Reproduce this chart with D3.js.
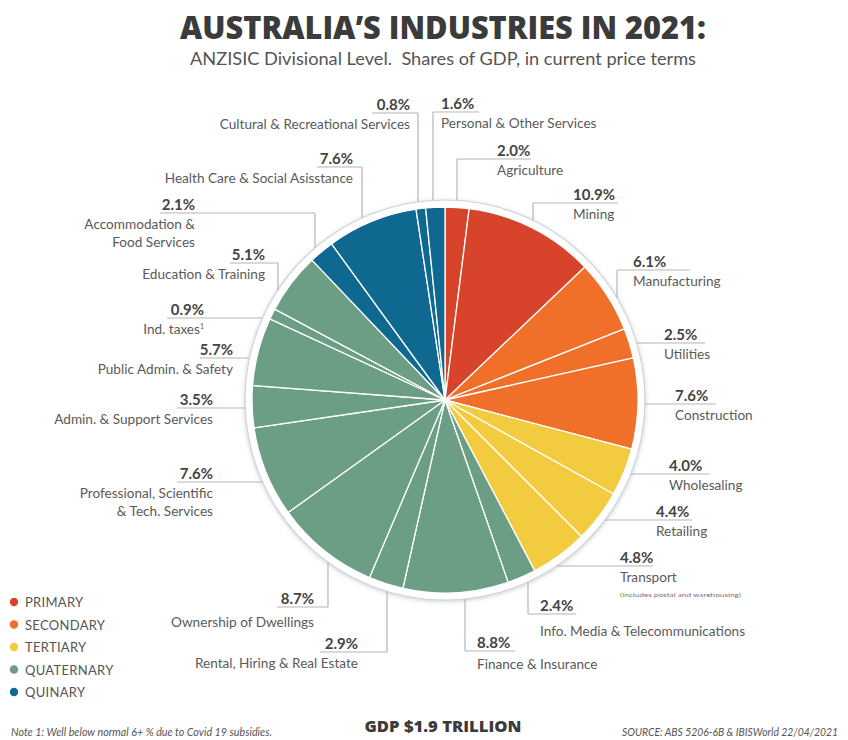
<!DOCTYPE html>
<html>
<head>
<meta charset="utf-8">
<script src="https://cdn.jsdelivr.net/npm/d3@7"></script>
<style>
  html, body { margin: 0; padding: 0; background: #fff; }
  svg { display: block; }
</style>
</head>
<body>
<svg id="chart" width="848" height="740"></svg>
<script>
// ANZSIC divisions, clockwise from 12 o'clock
const industries = [
  "Agriculture", "Mining", "Manufacturing", "Utilities", "Construction",
  "Wholesaling", "Retailing", "Transport", "Info. Media & Telecommunications",
  "Finance & Insurance", "Rental, Hiring & Real Estate", "Ownership of Dwellings",
  "Professional, Scientific & Tech. Services", "Admin. & Support Services",
  "Public Admin. & Safety", "Ind. taxes", "Education & Training",
  "Accommodation & Food Services", "Health Care & Social Asisstance",
  "Cultural & Recreational Services", "Personal & Other Services"
];
// Share of GDP (%)
const shares = [2.0, 10.9, 6.1, 2.5, 7.6, 4.0, 4.4, 4.8, 2.4, 8.8, 2.9, 8.7, 7.6, 3.5, 5.7, 0.9, 5.1, 2.1, 7.6, 0.8, 1.6];
// Sector of each division (index into sectorNames)
const sectorOf = [0, 0, 1, 1, 1, 2, 2, 2, 3, 3, 3, 3, 3, 3, 3, 3, 3, 4, 4, 4, 4];
const sectorNames = ["PRIMARY", "SECONDARY", "TERTIARY", "QUATERNARY", "QUINARY"];
const sectorColors = ["#d8442b", "#f0702a", "#f3cb3f", "#6b9e85", "#0e6890"];

// Label placement: text x, rule y, text anchor, rule ends, leader type
const labelLayout = [
  { x: 497, y: 159, anchor: "start", rule: [457, 531], leader: "v", vx: 457 },
  { x: 573, y: 203, anchor: "start", rule: [533, 618], leader: "v", vx: 533 },
  { x: 633, y: 270, anchor: "start", rule: [617, 690], leader: "v", vx: 617 },
  { x: 664, y: 343, anchor: "start", rule: [null, 705], leader: "h" },
  { x: 675, y: 404, anchor: "start", rule: [null, 716], leader: "h" },
  { x: 669, y: 474, anchor: "start", rule: [null, 710], leader: "h" },
  { x: 656, y: 520, anchor: "start", rule: [null, 692], leader: "h" },
  { x: 620, y: 566, anchor: "start", rule: [null, 653], leader: "h", note: "(includes postal and warehousing)" },
  { x: 540, y: 614, anchor: "start", rule: [528, 576], leader: "v", vx: 528, gap: 22 },
  { x: 477, y: 651, anchor: "start", rule: [465, 515], leader: "v", vx: 465, gap: 18 },
  { x: 358, y: 652, anchor: "end", rule: [320, 387], leader: "v", vx: 387 },
  { x: 314, y: 607, anchor: "end", rule: [277, 328], leader: "v", vx: 328, gap: 20 },
  { x: 213, y: 482, anchor: "end", rule: [177, null], leader: "h", lines: ["Professional, Scientific", "& Tech. Services"] },
  { x: 213, y: 408, anchor: "end", rule: [177, null], leader: "h" },
  { x: 233, y: 358, anchor: "end", rule: [200, null], leader: "h" },
  { x: 204, y: 318, anchor: "end", rule: [167, null], leader: "h", sup: "1" },
  { x: 265, y: 263, anchor: "end", rule: [230, 278], leader: "v", vx: 278 },
  { x: 195, y: 213, anchor: "end", rule: [160, 315], leader: "v", vx: 315, lines: ["Accommodation &", "Food Services"] },
  { x: 353, y: 167, anchor: "end", rule: [317, 362], leader: "v", vx: 362 },
  { x: 410, y: 113, anchor: "end", rule: [372, 418], leader: "v", vx: 418 },
  { x: 441, y: 112, anchor: "start", rule: [433, 479], leader: "v", vx: 433 }
];

const svg = d3.select("#chart");
const cx = 445, cy = 400;
const radius = 193, ringR = 200;

// Titles
svg.append("text")
  .attr("x", 443).attr("y", 39)
  .attr("text-anchor", "middle")
  .attr("textLength", 526).attr("lengthAdjust", "spacingAndGlyphs")
  .style("font-family", "'Open Sans', sans-serif")
  .style("font-weight", 800).style("font-size", "31px")
  .style("fill", "#3b3b3b")
  .text("AUSTRALIA\u2019S INDUSTRIES IN 2021:");

svg.append("text")
  .attr("x", 443).attr("y", 65)
  .attr("text-anchor", "middle")
  .attr("textLength", 506).attr("lengthAdjust", "spacingAndGlyphs")
  .style("font-family", "Lato, sans-serif")
  .style("font-size", "16.5px")
  .style("fill", "#555")
  .style("white-space", "pre")
  .text("ANZISIC Divisional Level.  Shares of GDP, in current price terms");

// Soft shadow for the outer ring
const defs = svg.append("defs");
const shadow = defs.append("filter").attr("id", "ringShadow")
  .attr("x", "-10%").attr("y", "-10%").attr("width", "120%").attr("height", "120%");
shadow.append("feDropShadow")
  .attr("dx", 0).attr("dy", 1).attr("stdDeviation", 2)
  .attr("flood-color", "#8a93a0").attr("flood-opacity", 0.45);

const g = svg.append("g").attr("transform", `translate(${cx},${cy})`);

g.append("circle")
  .attr("r", ringR)
  .attr("fill", "#fff")
  .attr("stroke", "#cfd4da")
  .attr("stroke-width", 1.2)
  .attr("filter", "url(#ringShadow)");

const pie = d3.pie().sort(null).value(d => d)(shares);
const arc = d3.arc().innerRadius(0).outerRadius(radius);

g.selectAll("path.slice")
  .data(pie)
  .join("path")
  .attr("class", "slice")
  .attr("d", arc)
  .attr("fill", (d, i) => sectorColors[sectorOf[i]])
  .attr("stroke", "#ffffff")
  .attr("stroke-width", 1.3)
  .attr("stroke-linejoin", "round");

// Leader lines and labels
const fmt = d3.format(".1f");
const lab = svg.append("g");
const lineColor = "#b5b5b5";

function circleX(y, side) {
  const dy = y - cy;
  return cx + side * Math.sqrt(ringR * ringR - dy * dy);
}
function circleY(x, side) {
  const dx = x - cx;
  return cy + side * Math.sqrt(ringR * ringR - dx * dx);
}

labelLayout.forEach((L, i) => {
  const mid = (pie[i].startAngle + pie[i].endAngle) / 2;
  const sideX = Math.sin(mid) >= 0 ? 1 : -1;
  const sideY = -Math.cos(mid) >= 0 ? 1 : -1;
  let x0 = L.rule[0], x1 = L.rule[1];
  if (L.leader === "h") {
    if (x0 === null) x0 = circleX(L.y, sideX);
    if (x1 === null) x1 = circleX(L.y, sideX);
  }
  lab.append("line")
    .attr("x1", x0).attr("x2", x1).attr("y1", L.y).attr("y2", L.y)
    .attr("stroke", lineColor).attr("stroke-width", 1.2);
  if (L.leader === "v") {
    lab.append("line")
      .attr("x1", L.vx).attr("x2", L.vx)
      .attr("y1", L.y).attr("y2", circleY(L.vx, sideY))
      .attr("stroke", lineColor).attr("stroke-width", 1.2);
  }

  lab.append("text")
    .attr("x", L.x).attr("y", L.y - 3)
    .attr("text-anchor", L.anchor)
    .style("font-family", "Lato, sans-serif")
    .style("font-weight", 700).style("font-size", "15px")
    .style("fill", "#444")
    .text(fmt(shares[i]) + "%");

  const lines = L.lines || [industries[i]];
  const gap = L.gap || 16;
  lines.forEach((t, k) => {
    const tx = lab.append("text")
      .attr("x", L.x).attr("y", L.y + gap + k * 18)
      .attr("text-anchor", L.anchor)
      .style("font-family", "Lato, sans-serif")
      .style("font-size", "13.6px")
      .style("fill", "#5a5a5a")
      .text(t);
    if (L.sup && k === lines.length - 1) {
      tx.append("tspan")
        .attr("dy", -5)
        .style("font-size", "7px")
        .text(L.sup);
    }
  });
  if (L.note) {
    lab.append("text")
      .attr("x", L.x).attr("y", L.y + gap + 15)
      .attr("text-anchor", L.anchor)
      .attr("textLength", 121).attr("lengthAdjust", "spacingAndGlyphs")
      .style("font-family", "Lato, sans-serif")
      .style("font-size", "6.5px")
      .style("fill", "#777")
      .text(L.note);
  }
});

// Legend
const legend = svg.append("g").attr("transform", "translate(14,603)");
const legendStep = 22.5;
legend.selectAll("circle")
  .data(sectorNames)
  .join("circle")
  .attr("cx", 0).attr("cy", (d, i) => i * legendStep - 1)
  .attr("r", 4.2)
  .attr("fill", (d, i) => sectorColors[i]);
legend.selectAll("text")
  .data(sectorNames)
  .join("text")
  .attr("x", 11).attr("y", (d, i) => i * legendStep + 4)
  .style("font-family", "Lato, sans-serif")
  .style("font-size", "13px")
  .style("letter-spacing", "0.3px")
  .style("fill", "#555")
  .text(d => d);

// Footer
svg.append("text")
  .attr("x", 11).attr("y", 736)
  .attr("textLength", 261).attr("lengthAdjust", "spacingAndGlyphs")
  .style("font-family", "Lato, sans-serif")
  .style("font-style", "italic")
  .style("font-size", "10.5px")
  .style("fill", "#555")
  .text("Note 1: Well below normal 6+ % due to Covid 19 subsidies.");

svg.append("text")
  .attr("x", 443).attr("y", 732)
  .attr("text-anchor", "middle")
  .attr("textLength", 157).attr("lengthAdjust", "spacingAndGlyphs")
  .style("font-family", "'Open Sans', sans-serif")
  .style("font-weight", 800).style("font-size", "16px")
  .style("fill", "#3b3b3b")
  .text("GDP $1.9 TRILLION");

svg.append("text")
  .attr("x", 838).attr("y", 736)
  .attr("text-anchor", "end")
  .attr("textLength", 216).attr("lengthAdjust", "spacingAndGlyphs")
  .style("font-family", "Lato, sans-serif")
  .style("font-style", "italic")
  .style("font-size", "10.5px")
  .style("fill", "#555")
  .text("SOURCE: ABS 5206-6B & IBISWorld 22/04/2021");
</script>
</body>
</html>
